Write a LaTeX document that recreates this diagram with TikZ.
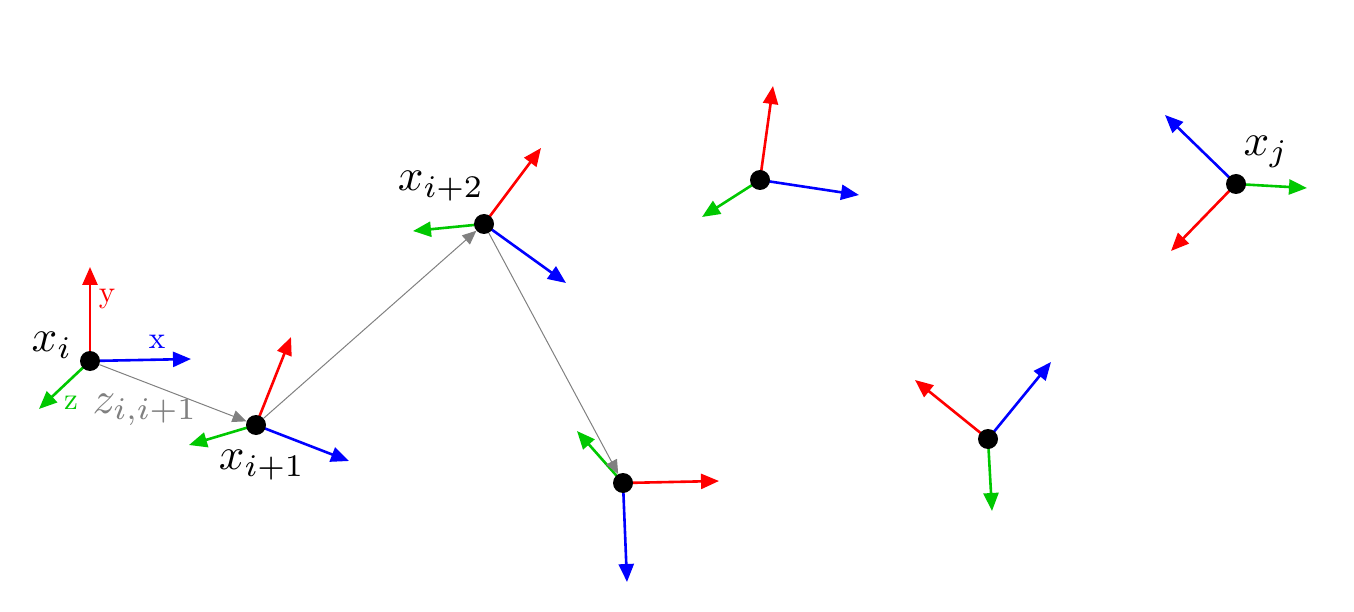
\documentclass[tikz,border=0pt]{standalone}
\usetikzlibrary{arrows.meta}
\definecolor{axred}{RGB}{255,0,0}
\definecolor{axblue}{RGB}{0,0,255}
\definecolor{axgreen}{RGB}{0,200,0}
\definecolor{lkgray}{RGB}{128,128,128}
\begin{document}
\begin{tikzpicture}[x=1pt,y=-1pt,
  axis/.style={line width=2.6pt,-{Triangle[length=18pt,width=15pt]}},
  link/.style={lkgray,line width=1pt,-{Triangle[length=14pt,width=12pt]}},
  dot/.style={circle,fill=black,minimum size=20pt,inner sep=0pt},
  mlab/.style={scale=4.5,inner sep=0pt},
  alab/.style={scale=3.1,inner sep=0pt}]
\useasboundingbox (0,0) rectangle (1354,612);
% node positions
\coordinate (pi) at (90,361);
\coordinate (pi1) at (256,425);
\coordinate (pi2) at (484,224);
\coordinate (p4) at (623,483);
\coordinate (p5) at (760,180);
\coordinate (p6) at (988,439);
\coordinate (pj) at (1236,184);
% axis ends
\coordinate (ai-r) at (90,267);
\coordinate (ai-b) at (191,359);
\coordinate (ai-g) at (39,409);
\coordinate (a1-r) at (291,337);
\coordinate (a1-b) at (349,461);
\coordinate (a1-g) at (189,445);
\coordinate (a2-r) at (541,148);
\coordinate (a2-b) at (566,283);
\coordinate (a2-g) at (413,231);
\coordinate (a4-r) at (719,481);
\coordinate (a4-b) at (627,582);
\coordinate (a4-g) at (577,431);
\coordinate (a5-r) at (773,86);
\coordinate (a5-b) at (859,195);
\coordinate (a5-g) at (702,217);
\coordinate (a6-r) at (915,380);
\coordinate (a6-b) at (1051,362);
\coordinate (a6-g) at (992,511);
\coordinate (aj-r) at (1171,251);
\coordinate (aj-b) at (1165,115);
\coordinate (aj-g) at (1307,188);
% axes
\draw[axis,axred] (pi) -- (ai-r);
\draw[axis,axblue] (pi) -- (ai-b);
\draw[axis,axgreen] (pi) -- (ai-g);
\draw[axis,axred] (pi1) -- (a1-r);
\draw[axis,axblue] (pi1) -- (a1-b);
\draw[axis,axgreen] (pi1) -- (a1-g);
\draw[axis,axred] (pi2) -- (a2-r);
\draw[axis,axblue] (pi2) -- (a2-b);
\draw[axis,axgreen] (pi2) -- (a2-g);
\draw[axis,axred] (p4) -- (a4-r);
\draw[axis,axblue] (p4) -- (a4-b);
\draw[axis,axgreen] (p4) -- (a4-g);
\draw[axis,axred] (p5) -- (a5-r);
\draw[axis,axblue] (p5) -- (a5-b);
\draw[axis,axgreen] (p5) -- (a5-g);
\draw[axis,axred] (p6) -- (a6-r);
\draw[axis,axblue] (p6) -- (a6-b);
\draw[axis,axgreen] (p6) -- (a6-g);
\draw[axis,axred] (pj) -- (aj-r);
\draw[axis,axblue] (pj) -- (aj-b);
\draw[axis,axgreen] (pj) -- (aj-g);
% dots
\node[dot] (xi) at (pi) {};
\node[dot] (xi1) at (pi1) {};
\node[dot] (xi2) at (pi2) {};
\node[dot] (n4) at (p4) {};
\node[dot] (n5) at (p5) {};
\node[dot] (n6) at (p6) {};
\node[dot] (xj) at (pj) {};
% links
\draw[link] (xi) -- (xi1);
\draw[link] (xi1) -- (xi2);
\draw[link] (xi2) -- (n4);
% labels
\node[mlab] (lxi) at (52,345) {$x_i$};
\node[mlab] (lxi1) at (262,465) {$x_{i+1}$};
\node[mlab] (lxi2) at (441,186) {$x_{i+2}$};
\node[mlab] (lxj) at (1266,152) {$x_j$};
\node[mlab,text=lkgray] (lz) at (145,410) {$z_{i,i+1}$};
\node[alab,text=axred] (ly) at (107,299) {y};
\node[alab,text=axblue] (lx) at (157,342) {x};
\node[alab,text=axgreen] (lzz) at (71,403) {z};
\end{tikzpicture}
\end{document}
